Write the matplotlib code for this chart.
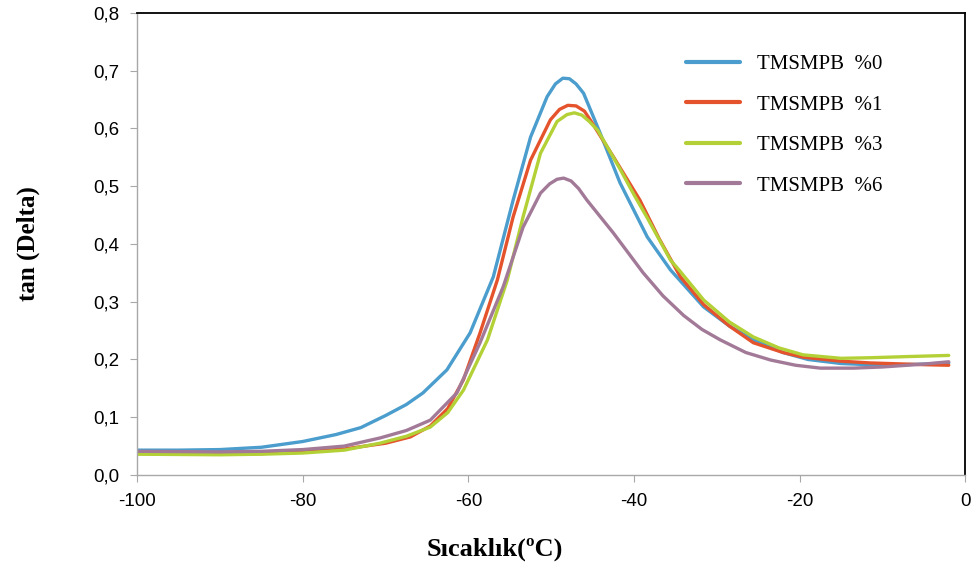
import numpy as np
import matplotlib.pyplot as plt
from matplotlib.ticker import FuncFormatter

plt.rcParams['axes.unicode_minus'] = False

# temperature (C) and tan delta readings per sample
t_blue = [-100, -95, -90, -85, -80, -76, -73, -70, -67.5, -65.5, -62.6, -59.8, -57, -54.6, -52.5, -50.5, -49.5, -48.6, -47.8, -47, -46.1, -44.1, -41.7, -38.4, -35.6, -31.6, -28.5, -25.6, -22, -19, -15, -10, -5, -2]
d_blue = [0.043, 0.043, 0.044, 0.048, 0.058, 0.070, 0.082, 0.103, 0.122, 0.142, 0.182, 0.246, 0.343, 0.476, 0.585, 0.655, 0.677, 0.687, 0.686, 0.677, 0.661, 0.592, 0.506, 0.412, 0.355, 0.291, 0.258, 0.234, 0.212, 0.200, 0.193, 0.190, 0.192, 0.194]

t_red = [-100, -90, -85, -80, -75, -70, -67, -64.6, -62.5, -60.6, -58.6, -56.5, -54.6, -52.5, -50.1, -49, -48, -47, -46, -45.3, -42.5, -39.3, -37, -34.4, -31.6, -28.5, -25.6, -22, -19.6, -15, -11.5, -5, -2]
d_red = [0.037, 0.036, 0.037, 0.040, 0.045, 0.055, 0.066, 0.085, 0.115, 0.165, 0.246, 0.338, 0.447, 0.545, 0.615, 0.633, 0.640, 0.639, 0.630, 0.615, 0.551, 0.476, 0.410, 0.343, 0.295, 0.258, 0.229, 0.212, 0.204, 0.197, 0.194, 0.191, 0.190]

t_green = [-100, -90, -85, -80, -75, -70.7, -67.5, -64.6, -62.5, -60.6, -57.7, -55.3, -53.4, -51.3, -49.3, -48.1, -47.2, -46.3, -45.4, -44.4, -41.7, -40, -38.4, -35.6, -34.4, -31.6, -28.5, -25.6, -22.5, -19.6, -15, -11.5, -7, -2]
d_green = [0.036, 0.035, 0.036, 0.038, 0.043, 0.055, 0.067, 0.083, 0.108, 0.147, 0.234, 0.338, 0.447, 0.557, 0.612, 0.624, 0.627, 0.623, 0.612, 0.597, 0.530, 0.485, 0.445, 0.372, 0.352, 0.303, 0.265, 0.239, 0.220, 0.208, 0.202, 0.203, 0.205, 0.207]

t_purple = [-100, -90, -85, -80, -75, -70.7, -67.5, -64.6, -61.4, -58.6, -55.8, -53.4, -51.3, -50.2, -49.3, -48.5, -47.6, -46.7, -45.7, -42.5, -38.9, -36.5, -34, -31.8, -29.6, -26.5, -23.5, -20.5, -17.5, -13.5, -10, -5, -2]
d_purple = [0.041, 0.040, 0.041, 0.044, 0.050, 0.064, 0.077, 0.095, 0.142, 0.229, 0.326, 0.429, 0.488, 0.504, 0.512, 0.514, 0.509, 0.496, 0.476, 0.419, 0.350, 0.310, 0.276, 0.252, 0.234, 0.212, 0.199, 0.190, 0.185, 0.185, 0.187, 0.192, 0.196]

labels = ['TMSMPB  %0', 'TMSMPB  %1', 'TMSMPB  %3', 'TMSMPB  %6']
colors = ['#4a9dcc', '#e5532c', '#b3d136', '#a27a98']

fig = plt.figure(figsize=(9.8, 5.74), dpi=100)
ax = fig.add_axes([0.140, 0.1725, 0.845, 0.805])

series = [(t_blue, d_blue), (t_red, d_red), (t_green, d_green), (t_purple, d_purple)]
for (t, d), lab, c in zip(series, labels, colors):
    ax.plot(t, d, color=c, lw=2.4, label=lab, solid_capstyle='round', solid_joinstyle='round')

ax.set_xlim(-100, 0)
ax.set_ylim(0, 0.8)
ax.set_xticks(np.arange(-100, 1, 20))
ax.set_yticks(np.arange(0, 0.81, 0.1))
ax.yaxis.set_major_formatter(FuncFormatter(lambda v, p: f'{v:.1f}'.replace('.', ',')))

for s in ['left', 'bottom']:
    ax.spines[s].set_color('#a8a8a8')
    ax.spines[s].set_linewidth(1.0)
for s in ['top', 'right']:
    ax.spines[s].set_color('black')
    ax.spines[s].set_linewidth(1.3)

ax.tick_params(direction='out', length=5, color='#a8a8a8', labelsize=13.5, pad=8)
for lbl in ax.get_xticklabels() + ax.get_yticklabels():
    lbl.set_family('Liberation Sans')

ax.set_xlabel('Sıcaklık(ºC)', family='Liberation Serif', fontweight='bold', fontsize=19)
ax.xaxis.set_label_coords(0.432, -0.135)
ax.set_ylabel('tan (Delta)', family='Liberation Serif', fontweight='bold', fontsize=18, labelpad=38)

leg = ax.legend(loc='upper left', bbox_to_anchor=(0.64, 0.95), frameon=False,
                prop={'family': 'Liberation Serif', 'size': 15},
                handlelength=2.6, handletextpad=0.8, labelspacing=1.0)
for h in leg.get_lines():
    h.set_linewidth(3)

fig.savefig('out.png', dpi=100)
